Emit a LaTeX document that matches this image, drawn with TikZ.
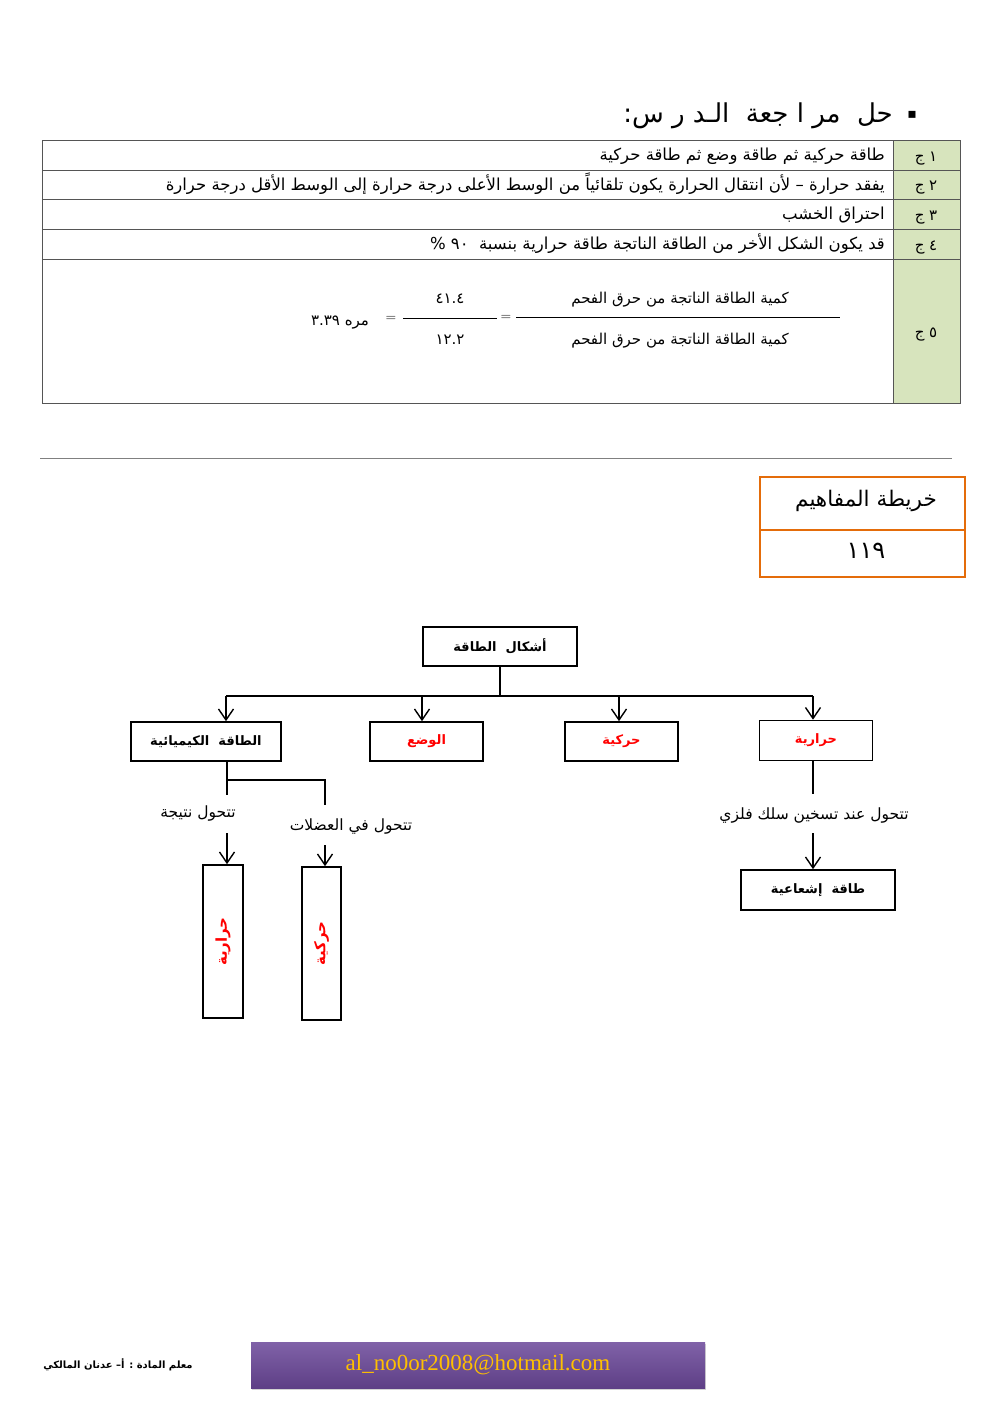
\documentclass[tikz,border=0pt]{standalone}
\usepackage{fontspec}
\usetikzlibrary{arrows.meta,shadows,calc}
\TeXXeTstate=1
\newfontfamily\ar[Script=Arabic]{DejaVu Sans}
\newfontfamily\sym{DejaVu Sans}
\newfontfamily\tnr{Liberation Serif}
\definecolor{tblgreen}{HTML}{D7E4BD}
\definecolor{tblline}{HTML}{555555}
\definecolor{orng}{HTML}{E46C0A}
\definecolor{purtop}{HTML}{8062A8}
\definecolor{purbot}{HTML}{5E3F86}
\definecolor{gold}{HTML}{FFC000}
\tikzset{
  rowtxt/.style={anchor=base east,font=\ar\fontsize{16.5}{18}\selectfont},
  lbltxt/.style={anchor=base,font=\ar\fontsize{15}{17}\selectfont},
  fractxt/.style={anchor=base,font=\ar\fontsize{15}{17}\selectfont},
  fbox/.style={draw,line width=1.6pt,minimum height=39pt,inner sep=2pt,font=\ar\bfseries\fontsize{13}{15}\selectfont},
  redtxt/.style={text=red},
  flowlab/.style={font=\ar\fontsize{15.5}{17}\selectfont,inner sep=1pt},
  arr/.style={line width=1.4pt,-{Straight Barb[length=11pt,width=15pt,line width=1.4pt]}},
  conn/.style={line width=1.4pt},
}
\begin{document}
\begin{tikzpicture}[x=1pt,y=-1pt,every node/.style={inner sep=0pt}]
\useasboundingbox (0,0) rectangle (992,1403);
% title
\node[font=\sym\fontsize{14}{16}\selectfont] (bullet) at (912,115) {▪};
\node[anchor=east,font=\ar\fontsize{26}{30}\selectfont] (title) at (893,116) {\beginR حل \ مر ا جعة \ الـد ر س:\endR};
% table
\fill[tblgreen] (893,140) rectangle (960,403);
\draw[tblline,line width=0.8pt] (42,140) rectangle (960,403);
\foreach \yy in {170,199,229,259} \draw[tblline,line width=0.8pt] (42,\yy) -- (960,\yy);
\draw[tblline,line width=0.8pt] (893,140) -- (893,403);
\node[rowtxt] (r1) at (885,160) {\beginR طاقة حركية ثم طاقة وضع ثم طاقة حركية\endR};
\node[rowtxt] (r2) at (885,190) {\beginR يفقد حرارة – لأن انتقال الحرارة يكون تلقائياً من الوسط الأعلى درجة حرارة إلى الوسط الأقل درجة حرارة\endR};
\node[rowtxt] (r3) at (885,219) {\beginR احتراق الخشب\endR};
\node[rowtxt] (r4) at (885,249) {\beginR قد يكون الشكل الأخر من الطاقة الناتجة طاقة حرارية بنسبة \ ٩٠ \%\endR};
\node[lbltxt] (l1) at (926,161) {\beginR ١ ج\endR};
\node[lbltxt] (l2) at (926,190) {\beginR ٢ ج\endR};
\node[lbltxt] (l3) at (926,220) {\beginR ٣ ج\endR};
\node[lbltxt] (l4) at (926,250) {\beginR ٤ ج\endR};
\node[lbltxt] (l5) at (926,337) {\beginR ٥ ج\endR};
% fraction
\node[fractxt] (num) at (680,303) {\beginR كمية الطاقة الناتجة من حرق الفحم\endR};
\node[fractxt] (den) at (680,344) {\beginR كمية الطاقة الناتجة من حرق الفحم\endR};
\draw[line width=1pt] (516,317) -- (840,317);
\node[font=\fontsize{14}{16}\selectfont] (eq1) at (506,318) {=};
\node[fractxt] (n2) at (450,303) {٤١.٤};
\node[fractxt] (d2) at (450,344) {١٢.٢};
\draw[line width=1pt] (403,318) -- (497,318);
\node[font=\fontsize{14}{16}\selectfont] (eq2) at (391,319) {=};
\node[fractxt] (res) at (340,325) {\beginR مره ٣.٣٩\endR};
% separator
\draw[gray,line width=0.6pt] (40,458) -- (952,458);
% concept map box
\draw[orng,line width=1.6pt] (760,477) rectangle (965,577);
\draw[orng,line width=1.6pt] (760,530) -- (965,530);
\node[font=\ar\fontsize{21.5}{25}\selectfont] (cmt) at (866,501) {\beginR خريطة المفاهيم\endR};
\node[font=\ar\fontsize{24}{28}\selectfont] (cmn) at (866,551) {١١٩};
% flowchart
\node[fbox,minimum width=154pt] (root) at (500,646.5) {\beginR أشكال \ الطاقة\endR};
\node[fbox,minimum width=150pt] (chem) at (206,741.5) {\beginR الطاقة \ الكيميائية\endR};
\node[fbox,minimum width=113pt,redtxt] (pot) at (426.5,741.5) {\beginR الوضع\endR};
\node[fbox,minimum width=113pt,redtxt] (kin) at (621.5,741.5) {\beginR حركية\endR};
\node[fbox,minimum width=113pt,minimum height=40pt,redtxt] (heat) at (816,740.5) {\beginR حرارية\endR};
\node[fbox,minimum width=154pt,minimum height=40pt] (rad) at (818,890) {\beginR طاقة \ إشعاعية\endR};
\node[fbox,minimum width=153pt,minimum height=40pt,rotate=90,redtxt,font=\ar\bfseries\fontsize{15}{17}\selectfont] (vheat) at (223,941.5) {\beginR حرارية\endR};
\node[fbox,minimum width=153pt,minimum height=39pt,rotate=90,redtxt,font=\ar\bfseries\fontsize{15}{17}\selectfont] (vkin) at (321.5,943.5) {\beginR حركية\endR};
\coordinate (bus) at (500,696);
\coordinate (bA) at (226,696);
\coordinate (bB) at (422,696);
\coordinate (bC) at (619,696);
\coordinate (bD) at (813,696);
\draw[conn] (root.south) -- (bus);
\draw[conn] (bA) -- (bD);
\draw[arr] (bA) -- (bA |- chem.north);
\draw[arr] (bB) -- (bB |- pot.north);
\draw[arr] (bC) -- (bC |- kin.north);
\draw[arr] (bD) -- (bD |- heat.north);
% heat branch
\node[flowlab] (lab1) at (814,815) {\beginR تتحول عند تسخين سلك فلزي\endR};
\coordinate (h1) at (813,794);
\coordinate (h2) at (813,833);
\draw[conn] (h1 |- heat.south) -- (h1);
\draw[arr] (h2) -- (h2 |- rad.north);
% chemical branch
\coordinate (split) at (227,780);
\coordinate (c1) at (227,795);
\coordinate (c2) at (325,805);
\coordinate (c3) at (227,833);
\coordinate (c4) at (325,845);
\draw[conn] (c1 |- chem.south) -- (c1);
\draw[conn] (split) -| (c2);
\node[flowlab] (lab2) at (198,813) {\beginR تتحول نتيجة\endR};
\node[flowlab] (lab3) at (351,826) {\beginR تتحول في العضلات\endR};
\draw[arr] (c3) -- (c3 |- vheat.east);
\draw[arr] (c4) -- (c4 |- vkin.east);
% footer
\node[font=\ar\bfseries\fontsize{10}{12}\selectfont] (teacher) at (118,1365) {\beginR معلم المادة : أ– عدنان المالكي\endR};
\node[minimum width=454pt,minimum height=46pt,top color=purtop,bottom color=purbot,drop shadow={shadow xshift=1pt,shadow yshift=-2pt,opacity=0.35},text=gold,font=\tnr\fontsize{23}{27}\selectfont] (mail) at (478,1365) {al\_no0or2008@hotmail.com};
\end{tikzpicture}
\end{document}
